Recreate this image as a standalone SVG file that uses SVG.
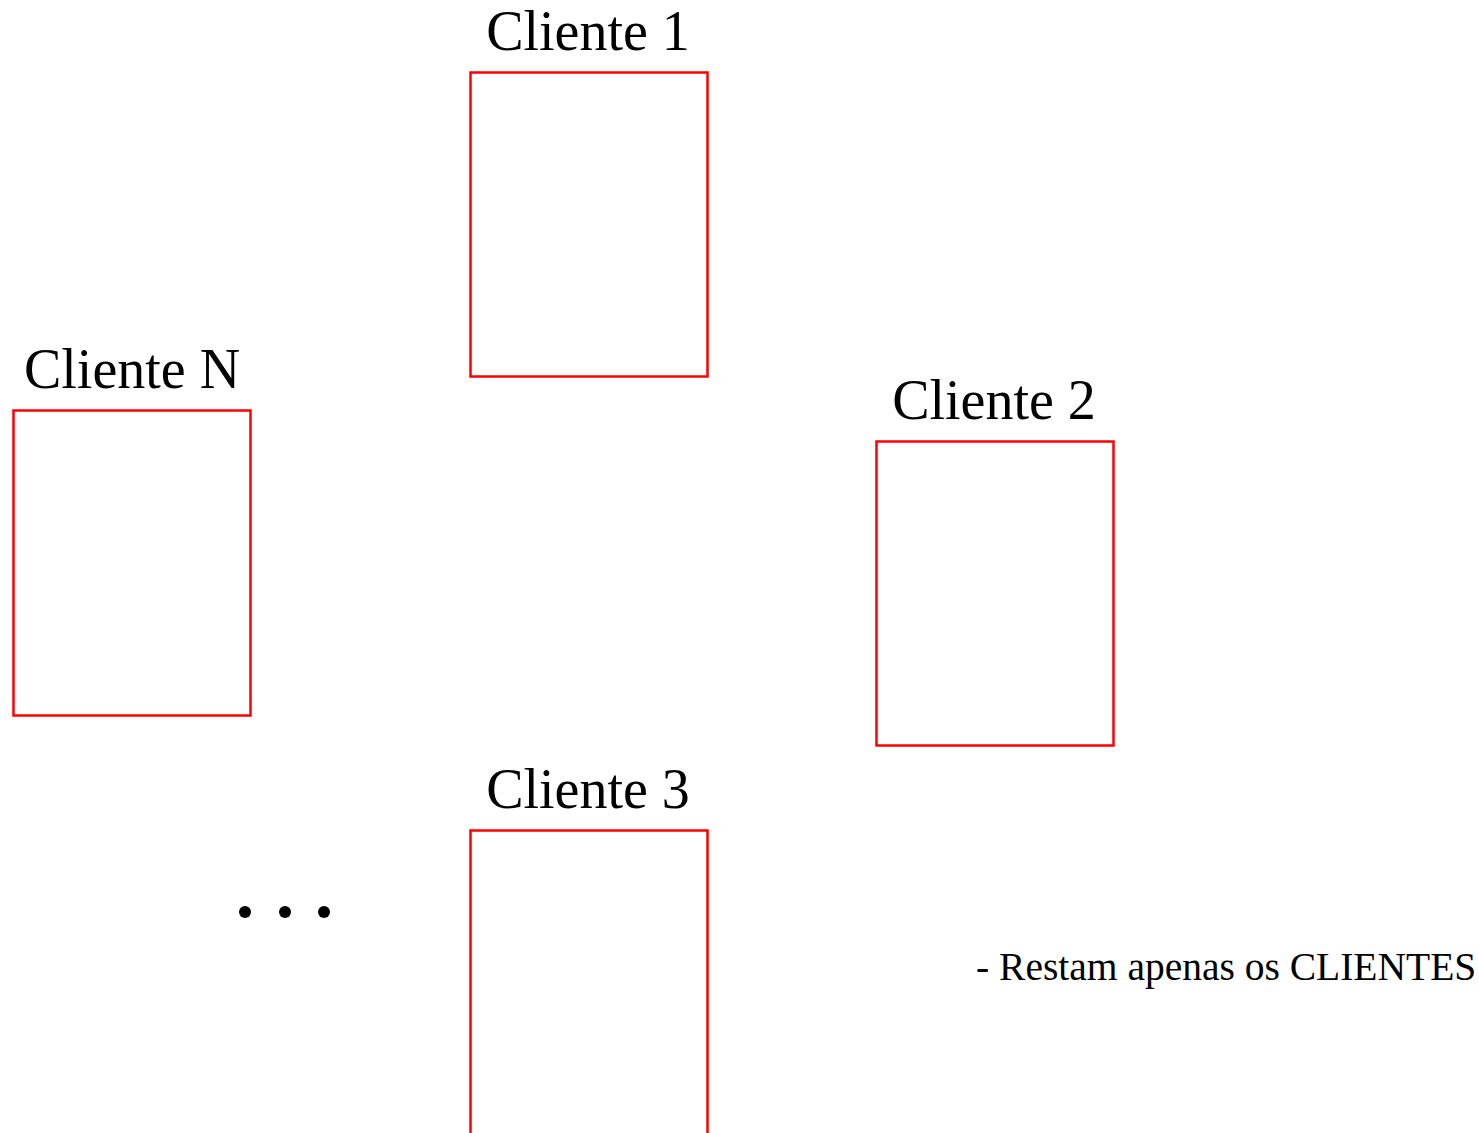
<svg xmlns="http://www.w3.org/2000/svg" width="1479" height="1133" viewBox="0 0 1479 1133">
<style>
.box{fill:#fff;stroke:#ff0000;stroke-width:2.5}
.lbl{font-family:"Liberation Serif","Times New Roman",serif;font-size:56px;fill:#000;text-anchor:middle}
.note{font-family:"Liberation Serif","Times New Roman",serif;font-size:39.5px;fill:#000}
</style>
<rect width="1479" height="1133" fill="#fff"/>
<g id="cliente1"><rect class="box" x="470.5" y="72.5" width="237" height="304"/><text class="lbl" x="588" y="50">Cliente 1</text></g>
<g id="clienteN"><rect class="box" x="13.5" y="410.5" width="237" height="305"/><text class="lbl" x="132" y="388">Cliente N</text></g>
<g id="cliente2"><rect class="box" x="876.5" y="441.5" width="237" height="304"/><text class="lbl" x="994" y="419">Cliente 2</text></g>
<g id="cliente3"><rect class="box" x="470.5" y="830.5" width="237" height="320"/><text class="lbl" x="588" y="808">Cliente 3</text></g>
<g id="dots"><circle cx="245" cy="912" r="6"/><circle cx="285" cy="912" r="6"/><circle cx="324" cy="912" r="6"/></g>
<g id="connectors"></g>
<text class="note" x="976" y="980">- Restam apenas os CLIENTES</text>
</svg>
